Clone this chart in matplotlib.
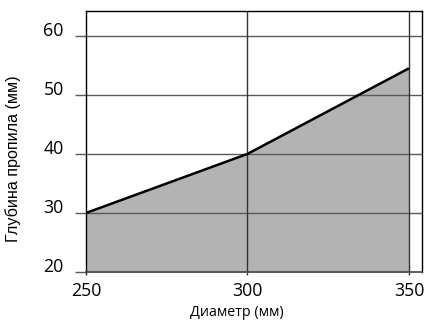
import numpy as np
import matplotlib
matplotlib.use("Agg")
import matplotlib.pyplot as plt

plt.rcParams["font.family"] = ["Open Sans", "DejaVu Sans"]

# data
diameter = [250, 300, 350]
depth = [30, 40, 54.5]
x_ticks = [250, 300, 350]
y_ticks = [20, 30, 40, 50, 60]

fig = plt.figure(figsize=(4.30, 3.25), dpi=100)
ax = fig.add_axes([0.2, 0.163, 0.781, 0.803])

ax.fill_between(diameter, 20, depth, color="#b3b3b3", lw=0, zorder=1)
ax.plot(diameter, depth, color="black", lw=1.8, zorder=3,
        solid_capstyle="butt")

ax.set_xlim(250, 354)
ax.set_ylim(20, 64.2)
ax.set_xticks(x_ticks)
ax.set_yticks(y_ticks)

# grid
for y in y_ticks[1:]:
    ax.axhline(y, color="#5a5a5a", lw=1.0, zorder=2)
for x in x_ticks[1:]:
    ax.axvline(x, color="#333333", lw=1.0, zorder=2)

for side in ["left", "top", "right"]:
    ax.spines[side].set_color("black")
    ax.spines[side].set_linewidth(1.0)
ax.spines["bottom"].set_color("#444444")
ax.spines["bottom"].set_linewidth(1.2)

ax.tick_params(axis="y", length=8, width=1.0, color="#5a5a5a", pad=8,
               labelsize=12.8)
ax.tick_params(axis="x", length=2, width=1.0, color="#333333", pad=5,
               labelsize=12.8)
for lbl in ax.get_yticklabels():
    lbl.set_verticalalignment("baseline")

fig.text(237 / 430, 1 - 313 / 325, "Диаметр (мм)", fontsize=10.3,
         ha="center", va="center")
fig.text(13 / 430, 1 - 159 / 325, "Глубина пропила (мм)", fontsize=11.6,
         rotation=90, ha="center", va="center",
         family=["Liberation Sans", "DejaVu Sans"])

fig.savefig("out.png", dpi=100)
plt.close(fig)
